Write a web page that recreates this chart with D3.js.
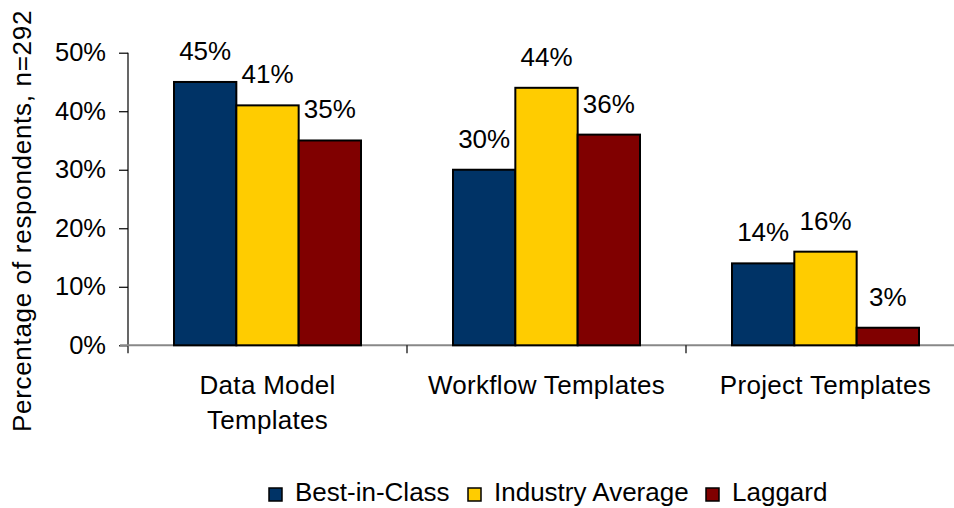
<!DOCTYPE html>
<html lang="en"><head>
  <meta charset="utf-8">
  <title>Template usage</title>
  <script src="https://cdn.jsdelivr.net/npm/d3@7"></script>
  <style>
   body { margin: 0; background: white; }
   text { font-family: "Liberation Sans", Arial, sans-serif; fill: black; }
  </style>
</head>
<body>
  <script>
   var width = 954;
   var height = 508;

   // chart data
   var categories = [["Data Model", "Templates"], ["Workflow Templates"], ["Project Templates"]];
   var seriesNames = ["Best-in-Class", "Industry Average", "Laggard"];
   var seriesColors = ["#003366", "#FFCC00", "#800000"];
   var bestInClass = [45, 30, 14];
   var industryAverage = [41, 44, 16];
   var laggard = [35, 36, 3];
   var yTicks = [0, 10, 20, 30, 40, 50];

   var values = [bestInClass, industryAverage, laggard];
   var catKeys = categories.map(function(c) { return c.join(" "); });

   // plot box (window.top is reserved, so no "top" here)
   var plotLeft = 128, plotRight = 965, plotTop = 52.7, plotBottom = 345.3;

   var x = d3.scaleBand().domain(catKeys).range([plotLeft, plotRight]);
   var x1 = d3.scaleBand().domain(seriesNames).range([46, 233]);
   var y = d3.scaleLinear().domain([0, 50]).range([plotBottom, plotTop]);

   var svg = d3.select("body").append("svg")
               .attr("width", width)
               .attr("height", height);

   // y axis
   var yAxis = d3.axisLeft(y)
                 .tickValues(yTicks)
                 .tickSize(9)
                 .tickPadding(13)
                 .tickFormat(function(d) { return d + "%"; });

   var gy = svg.append("g")
      .attr("transform", "translate(" + plotLeft + ",0)")
      .call(yAxis);
   gy.select(".domain").remove();
   gy.selectAll("line").attr("stroke", "black").attr("stroke-width", 1.2);
   gy.selectAll("text").attr("font-size", 25.5).attr("fill", "black")
     .attr("font-family", "Liberation Sans, Arial, sans-serif");
   gy.append("line")
     .attr("x1", 0).attr("x2", 0)
     .attr("y1", plotTop).attr("y2", plotBottom + 8)
     .attr("stroke", "black").attr("stroke-width", 1.2);

   // x axis
   svg.append("line")
      .attr("x1", plotLeft - 8).attr("x2", plotRight)
      .attr("y1", plotBottom).attr("y2", plotBottom)
      .attr("stroke", "#888888").attr("stroke-width", 2);

   svg.selectAll(".xtick")
      .data(catKeys.slice(1))
      .enter()
      .append("line")
      .attr("class", "xtick")
      .attr("x1", function(d) { return x(d); })
      .attr("x2", function(d) { return x(d); })
      .attr("y1", plotBottom)
      .attr("y2", plotBottom + 8)
      .attr("stroke", "black")
      .attr("stroke-width", 1.2);

   // bars
   var groups = svg.selectAll(".group")
                   .data(catKeys)
                   .enter()
                   .append("g")
                   .attr("class", "group")
                   .attr("transform", function(d) { return "translate(" + x(d) + ",0)"; });

   groups.selectAll("rect")
         .data(function(d, i) {
           return seriesNames.map(function(s, j) { return {series: s, value: values[j][i], color: seriesColors[j]}; });
         })
         .enter()
         .append("rect")
         .attr("x", function(d) { return x1(d.series); })
         .attr("y", function(d) { return y(d.value); })
         .attr("width", x1.bandwidth())
         .attr("height", function(d) { return y(0) - y(d.value); })
         .attr("fill", function(d) { return d.color; })
         .attr("stroke", "black")
         .attr("stroke-width", 2);

   groups.selectAll(".lbl")
         .data(function(d, i) {
           return seriesNames.map(function(s, j) { return {series: s, value: values[j][i]}; });
         })
         .enter()
         .append("text")
         .attr("class", "lbl")
         .attr("text-anchor", "middle")
         .attr("font-size", 26)
         .attr("x", function(d) { return x1(d.series) + x1.bandwidth() / 2; })
         .attr("y", function(d) { return y(d.value) - 22; })
         .text(function(d) { return d.value + "%"; });

   // category labels
   svg.selectAll(".cat")
      .data(categories)
      .enter()
      .append("text")
      .attr("class", "cat")
      .attr("text-anchor", "middle")
      .attr("font-size", 26)
      .attr("letter-spacing", 0.3)
      .attr("x", function(d, i) { return x(catKeys[i]) + x.bandwidth() / 2; })
      .attr("y", 394)
      .selectAll("tspan")
      .data(function(d) { return d; })
      .enter()
      .append("tspan")
      .attr("x", function() { return d3.select(this.parentNode).attr("x"); })
      .attr("dy", function(d, i) { return i === 0 ? 0 : 35; })
      .text(function(d) { return d; });

   // y axis title
   svg.append("text")
      .attr("text-anchor", "middle")
      .attr("font-size", 26)
      .attr("letter-spacing", 0.7)
      .attr("transform", "translate(31,221) rotate(-90)")
      .text("Percentage of respondents, n=292");

   // legend
   var legendX = [269, 468, 706];
   var legend = svg.selectAll(".legend")
                   .data(seriesNames)
                   .enter()
                   .append("g")
                   .attr("class", "legend")
                   .attr("transform", function(d, i) { return "translate(" + legendX[i] + ",488)"; });

   legend.append("rect")
         .attr("width", 13)
         .attr("height", 13)
         .attr("fill", function(d, i) { return seriesColors[i]; })
         .attr("stroke", "black")
         .attr("stroke-width", 1.5);

   legend.append("text")
         .attr("x", 26)
         .attr("y", 13)
         .attr("font-size", 26)
         .text(function(d) { return d; });
  </script>
</body></html>
